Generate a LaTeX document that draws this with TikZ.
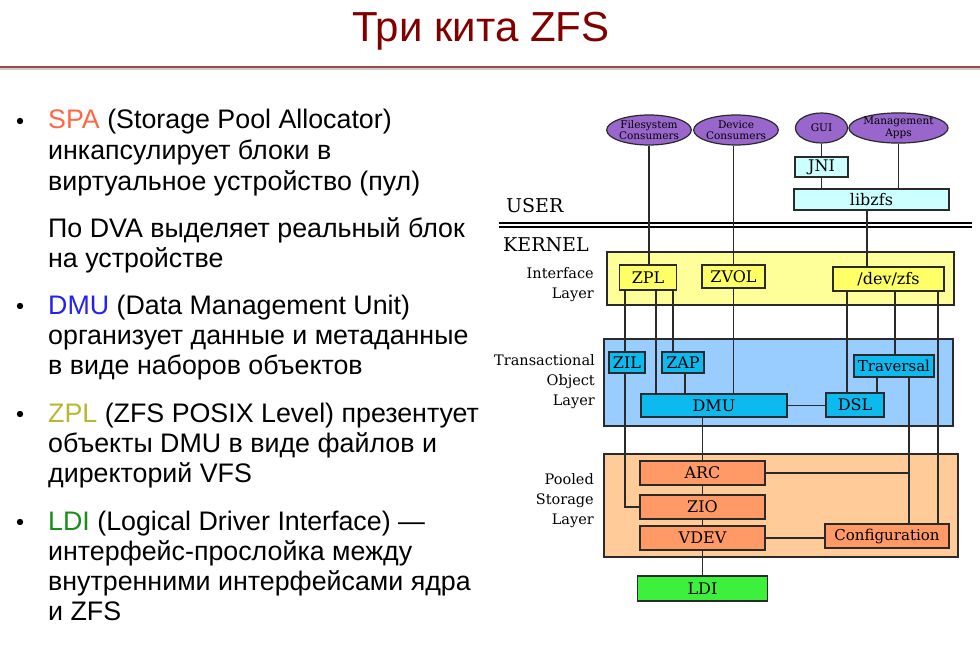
\documentclass[tikz,border=0pt]{standalone}
\usepackage{fontspec}
\setmainfont{Liberation Sans}
\newfontfamily\dia{DejaVu Serif}
\usetikzlibrary{shapes.geometric}
\definecolor{titlered}{HTML}{800000}
\definecolor{rule}{HTML}{A04848}
\definecolor{spac}{HTML}{FF6644}
\definecolor{dmuc}{HTML}{2222EE}
\definecolor{zplc}{HTML}{B8B830}
\definecolor{ldic}{HTML}{1A8C1A}
\definecolor{edge}{HTML}{2A2A2A}
\definecolor{purp}{HTML}{9966CC}
\definecolor{cyanf}{HTML}{CCFFFF}
\definecolor{ylay}{HTML}{FFFF99}
\definecolor{ybox}{HTML}{FFFF66}
\definecolor{blay}{HTML}{99CCFF}
\definecolor{bbox}{HTML}{0DBAF0}
\definecolor{olay}{HTML}{FFCC99}
\definecolor{obox}{HTML}{FF9966}
\definecolor{gbox}{HTML}{3CF03C}
\tikzset{
  txt/.style={anchor=base west, inner sep=0pt, font=\fontsize{26.8}{30}\selectfont},
  ell/.style={ellipse, draw=edge, line width=1.2pt, fill=purp, inner sep=0pt, align=center,
    font=\dia\fontsize{10.5}{11.5}\selectfont},
  boxx/.style={rectangle, draw=edge, line width=1.3pt, inner sep=0pt,
    font=\dia\fontsize{16}{18}\selectfont},
  small/.style={font=\dia\fontsize{15}{18}\selectfont},
  cbox/.style={boxx, fill=cyanf},
  yb/.style={boxx, fill=ybox},
  bb/.style={boxx, fill=bbox},
  ob/.style={boxx, fill=obox},
  gb/.style={boxx, fill=gbox},
  layer/.style={draw=edge, line width=1.2pt},
  lbl/.style={anchor=east, align=right, inner sep=0pt, font=\dia\fontsize{14.5}{20}\selectfont},
  conn/.style={draw=edge, line width=1.3pt},
}
\begin{document}
\begin{tikzpicture}[x=1pt,y=-1pt]
\useasboundingbox (0,0) rectangle (980,650);
% title
\node[anchor=base, inner sep=0pt, text=titlered, font=\fontsize{42}{46}\selectfont] (title) at (481,42) {Три кита ZFS};
\draw[black!20, line width=1.2pt] (0,69) -- (980,69);
\draw[rule, line width=1.5pt] (0,67) -- (980,67);
% bullets
\fill (20,121) circle (3.2);
\fill (20,306) circle (3.2);
\fill (20,414) circle (3.2);
\fill (20,522) circle (3.2);
\node[txt] (t1) at (48,129) {\textcolor{spac}{SPA} (Storage Pool Allocator)};
\node[txt] (t2) at (48,160) {инкапсулирует блоки в};
\node[txt] (t3) at (48,190) {виртуальное устройство (пул)};
\node[txt] (t4) at (48,237) {По DVA выделяет реальный блок};
\node[txt] (t5) at (48,267) {на устройстве};
\node[txt] (t6) at (48,314) {\textcolor{dmuc}{DMU} (Data Management Unit)};
\node[txt] (t7) at (48,344) {организует данные и метаданные};
\node[txt] (t8) at (48,374) {в виде наборов объектов};
\node[txt] (t9) at (48,422) {\textcolor{zplc}{ZPL} (ZFS POSIX Level) презентует};
\node[txt] (t10) at (48,452) {объекты DMU в виде файлов и};
\node[txt] (t11) at (48,482) {директорий VFS};
\node[txt] (t12) at (48,530) {\textcolor{ldic}{LDI} (Logical Driver Interface) —};
\node[txt] (t13) at (48,560) {интерфейс-прослойка между};
\node[txt] (t14) at (48,590) {внутренними интерфейсами ядра};
\node[txt] (t15) at (48,620) {и ZFS};
% layers
\filldraw[layer, fill=ylay] (607,252) rectangle (954,305);
\filldraw[layer, fill=blay] (604,339) rectangle (953,426);
\filldraw[layer, fill=olay] (604,454) rectangle (958,557);
% user / kernel
\node[anchor=base west, inner sep=0pt, font=\dia\fontsize{19}{22}\selectfont] (user) at (506,212) {USER};
\node[anchor=base west, inner sep=0pt, font=\dia\fontsize{19}{22}\selectfont] (kernel) at (503,251) {KERNEL};
\draw[black, line width=1.7pt] (499,223.3) -- (972,223.3);
\draw[black, line width=1.7pt] (499,227) -- (972,227);
% layer labels
\node[lbl] (lint) at (594,285) {Interface\\Layer};
\node[lbl] (ltra) at (595,382) {Transactional\\Object\\Layer};
\node[lbl] (lpoo) at (594,500.5) {Pooled\\Storage\\Layer};
% ellipses
\node[ell, minimum width=80, minimum height=30] (fsc) at (649,130) {Filesystem\\Consumers};
\node[ell, minimum width=78, minimum height=30] (devc) at (736,130) {Device\\Consumers};
\node[ell, minimum width=52, minimum height=30] (gui) at (821.5,128) {GUI};
\node[ell, minimum width=91, minimum height=30] (mgmt) at (898.5,128) {Management\\Apps};
% user boxes
\node[cbox, minimum width=53, minimum height=20] (jni) at (821.5,167) {JNI};
\node[cbox, minimum width=155, minimum height=21] (libzfs) at (871.5,199.5) {libzfs};
% interface boxes
\node[yb, minimum width=57, minimum height=25] (zpl) at (648,277.5) {ZPL};
\node[yb, minimum width=63, minimum height=23] (zvol) at (733.5,276.5) {ZVOL};
\node[yb, minimum width=111, minimum height=24] (devzfs) at (888.5,279) {/dev/zfs};
% transactional boxes
\node[bb, minimum width=36, minimum height=21] (zil) at (627,362.5) {ZIL};
\node[bb, minimum width=42, minimum height=21] (zap) at (683,362.5) {ZAP};
\node[bb, small, minimum width=80, minimum height=22] (trav) at (894,366) {Traversal};
\node[bb, minimum width=146, minimum height=23] (dmu) at (714,405.5) {DMU};
\node[bb, minimum width=58, minimum height=24] (dsl) at (855,405) {DSL};
% pooled boxes
\node[ob, minimum width=125, minimum height=24] (arc) at (702.5,473) {ARC};
\node[ob, minimum width=125, minimum height=24] (zio) at (702.5,507) {ZIO};
\node[ob, minimum width=125, minimum height=24] (vdev) at (702.5,538) {VDEV};
\node[ob, small, minimum width=124, minimum height=24] (conf) at (887,536) {Configuration};
\node[gb, minimum width=130, minimum height=25] (ldi) at (702.5,588.5) {LDI};
% x positions of vertical connectors
\coordinate (xa) at (625,0);
\coordinate (xb) at (656,0);
\coordinate (xc) at (673,0);
\coordinate (xd) at (685,0);
\coordinate (xe) at (867,0);
\coordinate (xf) at (847,0);
\coordinate (xg) at (895,0);
\coordinate (xh) at (938,0);
\coordinate (xi) at (877,0);
\coordinate (xj) at (909,0);
% connectors
\draw[conn] (fsc.south) -- (fsc.south |- zpl.north);
\draw[conn] (zvol.north |- devc.south) -- (zvol.north);
\draw[conn] (gui.south) -- (gui.south |- jni.north);
\draw[conn] (jni.south) -- (jni.south |- libzfs.north);
\draw[conn] (mgmt.south) -- (mgmt.south |- libzfs.north);
\draw[conn] (libzfs.south -| xe) -- (devzfs.north -| xe);
\draw[conn] (zpl.south -| xa) -- (zil.north -| xa);
\draw[conn] (zil.south -| xa) |- (zio.west);
\draw[conn] (zpl.south -| xb) -- (dmu.north -| xb);
\draw[conn] (zpl.south -| xc) -- (zap.north -| xc);
\draw[conn] (zap.south -| xd) -- (dmu.north -| xd);
\draw[conn] (zvol.south) -- (zvol.south |- dmu.north);
\draw[conn] (devzfs.south -| xf) -- (dsl.north -| xf);
\draw[conn] (devzfs.south -| xg) -- (trav.north -| xg);
\draw[conn] (devzfs.south -| xh) -- (conf.north -| xh);
\draw[conn] (trav.south -| xi) -- (dsl.north -| xi);
\draw[conn] (trav.south -| xj) -- (conf.north -| xj);
\draw[conn] (arc.east) -- (arc.east -| xj);
\draw[conn] (dmu.east) -- (dmu.east -| dsl.west);
\draw[conn] (arc.north |- dmu.south) -- (arc.north);
\draw[conn] (arc.south) -- (zio.north);
\draw[conn] (zio.south) -- (vdev.north);
\draw[conn] (vdev.south) -- (ldi.north);
\draw[conn] (vdev.east) -- (vdev.east -| conf.west);
\end{tikzpicture}
\end{document}
